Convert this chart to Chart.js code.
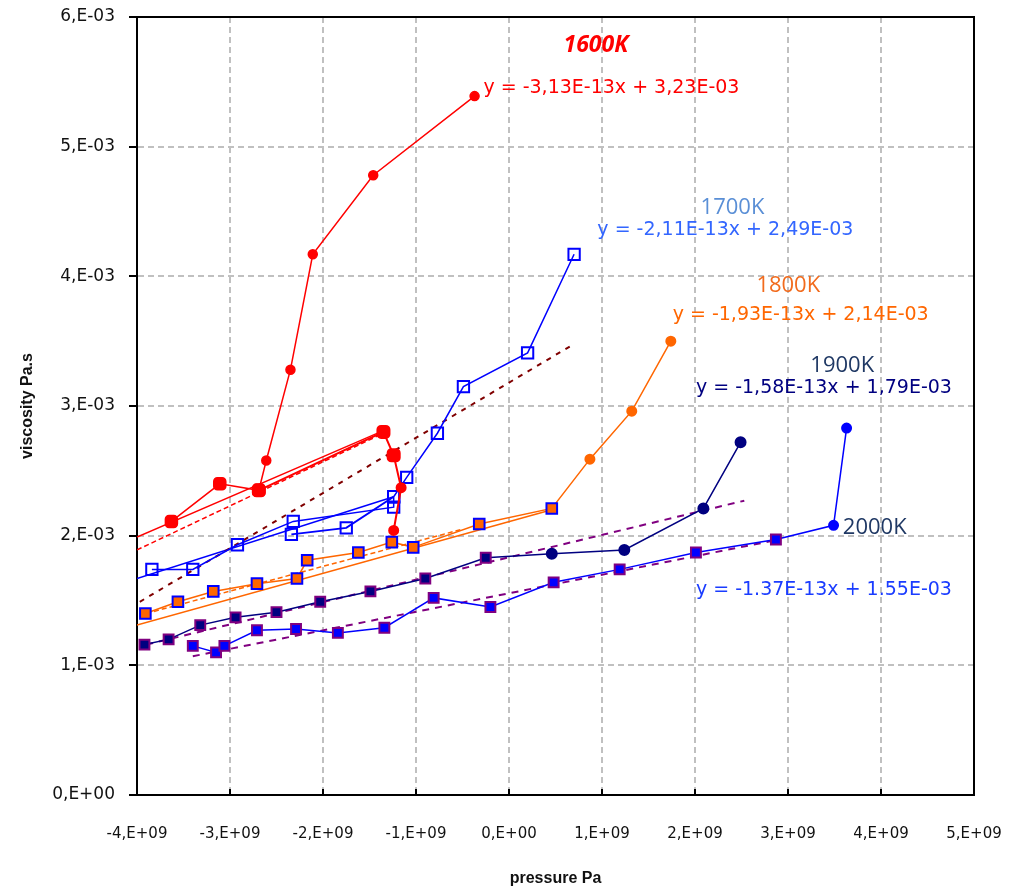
<!DOCTYPE html>
<html>
<head>
<meta charset="utf-8">
<script src="https://cdn.jsdelivr.net/npm/chart.js@4.4.1/dist/chart.umd.min.js"></script>
<style>
  html, body { margin: 0; padding: 0; background: #fff; }
  #wrap { width: 1012px; height: 889px; position: relative; }
</style>
</head>
<body>
<div id="wrap"><canvas id="viscosityChart"></canvas></div>
<script>
// pressure (Pa) and viscosity (Pa.s)
const p1600a = [-3.63e9, -3.11e9, -2.69e9, -2.61e9, -2.35e9, -2.11e9, -1.46e9, -0.37e9];
const v1600a = [2.11e-3, 2.40e-3, 2.35e-3, 2.58e-3, 3.28e-3, 4.17e-3, 4.78e-3, 5.39e-3];
const p1600b = [-2.69e9, -1.35e9, -1.24e9, -1.16e9, -1.24e9];
const v1600b = [2.35e-3, 2.80e-3, 2.62e-3, 2.37e-3, 2.04e-3];

const p1700a = [-3.84e9, -3.40e9, -2.92e9, -2.32e9, -1.24e9, -1.24e9, -1.10e9, -0.77e9, -0.49e9, 0.20e9, 0.70e9];
const v1700a = [1.74e-3, 1.74e-3, 1.93e-3, 2.11e-3, 2.22e-3, 2.30e-3, 2.45e-3, 2.79e-3, 3.15e-3, 3.41e-3, 4.17e-3];
const p1700b = [-2.34e9, -1.75e9, -1.24e9];
const v1700b = [2.01e-3, 2.06e-3, 2.30e-3];

const p1800 = [-3.91e9, -3.56e9, -3.18e9, -2.71e9, -2.28e9, -2.17e9, -1.62e9, -1.26e9, -1.03e9, -0.32e9, 0.46e9, 0.87e9, 1.32e9, 1.74e9];
const v1800 = [1.40e-3, 1.49e-3, 1.57e-3, 1.63e-3, 1.67e-3, 1.81e-3, 1.87e-3, 1.95e-3, 1.91e-3, 2.09e-3, 2.21e-3, 2.59e-3, 2.96e-3, 3.50e-3];

const p1900 = [-3.92e9, -3.66e9, -3.32e9, -2.94e9, -2.50e9, -2.03e9, -1.49e9, -0.90e9, -0.25e9, 0.46e9, 1.24e9, 2.09e9, 2.49e9];
const v1900 = [1.16e-3, 1.20e-3, 1.31e-3, 1.37e-3, 1.41e-3, 1.49e-3, 1.57e-3, 1.67e-3, 1.83e-3, 1.86e-3, 1.89e-3, 2.21e-3, 2.72e-3];

const p2000 = [-3.40e9, -3.15e9, -3.06e9, -2.71e9, -2.29e9, -1.84e9, -1.34e9, -0.81e9, -0.20e9, 0.48e9, 1.19e9, 2.01e9, 2.87e9, 3.49e9, 3.63e9];
const v2000 = [1.15e-3, 1.10e-3, 1.15e-3, 1.27e-3, 1.28e-3, 1.25e-3, 1.29e-3, 1.52e-3, 1.45e-3, 1.64e-3, 1.74e-3, 1.87e-3, 1.97e-3, 2.08e-3, 2.83e-3];

// trend lines (end points)
const pTrendRed = [-4.0e9, -1.35e9];
const vTrendRed = [1.99e-3, 2.81e-3];
const vTrendRed2 = [1.89e-3, 2.79e-3];
const pTrendMaroon = [-3.97e9, 0.68e9];
const vTrendMaroon = [1.49e-3, 3.47e-3];
const pTrendBlue = [-4.0e9, -1.24e9];
const vTrendBlue = [1.67e-3, 2.30e-3];
const pTrendOrange = [-4.0e9, 0.46e9];
const vTrendOrange = [1.31e-3, 2.20e-3];
const pTrendOrange2 = [-3.9e9, -0.5e9];
const vTrendOrange2 = [1.40e-3, 2.05e-3];
const pTrend1900 = [-3.9e9, 2.53e9];
const vTrend1900 = [1.16e-3, 2.27e-3];
const pTrend2000 = [-3.4e9, 2.9e9];
const vTrend2000 = [1.07e-3, 1.97e-3];

const xTickLabels = ["-4,E+09", "-3,E+09", "-2,E+09", "-1,E+09", "0,E+00", "1,E+09", "2,E+09", "3,E+09", "4,E+09", "5,E+09"];
const yTickLabels = ["0,E+00", "1,E-03", "2,E-03", "3,E-03", "4,E-03", "5,E-03", "6,E-03"];

const notes = [
    { text: "1600K", x: 0.586e9, y: 5.78e-3, color: "#ff0000", font: "italic bold 23px 'Open Sans'" },
    { text: "y = -3,13E-13x + 3,23E-03", x: -0.275e9, y: 5.455e-3, color: "#ff0000", font: "19px 'DejaVu Sans'" },
    { text: "1700K", x: 2.06e9, y: 4.53e-3, color: "#5a8fd6", font: "22px 'Open Sans'" },
    { text: "y = -2,11E-13x + 2,49E-03", x: 0.95e9, y: 4.36e-3, color: "#3366ff", font: "19px 'DejaVu Sans'" },
    { text: "1800K", x: 2.66e9, y: 3.93e-3, color: "#f26b1d", font: "22px 'Open Sans'" },
    { text: "y = -1,93E-13x + 2,14E-03", x: 1.76e9, y: 3.70e-3, color: "#ff6600", font: "19px 'DejaVu Sans'" },
    { text: "1900K", x: 3.24e9, y: 3.31e-3, color: "#1f3864", font: "22px 'Open Sans'" },
    { text: "y = -1,58E-13x + 1,79E-03", x: 2.01e9, y: 3.14e-3, color: "#000080", font: "19px 'DejaVu Sans'" },
    { text: "2000K", x: 3.59e9, y: 2.06e-3, color: "#1f3864", font: "22px 'Open Sans'" },
    { text: "y = -1.37E-13x + 1.55E-03", x: 2.01e9, y: 1.58e-3, color: "#1a3cff", font: "19px 'DejaVu Sans'" }
];

function pts(xs, ys) {
    return xs.map((x, i) => ({ x: x, y: ys[i] }));
}

function trend(xs, ys, color, dash, width) {
    return {
        data: pts(xs, ys),
        showLine: true,
        borderColor: color,
        borderWidth: width || 1.5,
        borderDash: dash || [],
        pointRadius: 0
    };
}

const labelPlugin = {
    id: "equationLabels",
    afterDatasetsDraw(chart) {
        const { ctx, scales } = chart;
        ctx.save();
        ctx.textAlign = "left";
        ctx.textBaseline = "middle";
        notes.forEach(n => {
            ctx.font = n.font;
            ctx.fillStyle = n.color;
            ctx.fillText(n.text, scales.x.getPixelForValue(n.x), scales.y.getPixelForValue(n.y));
        });
        ctx.restore();
    }
};

const framePlugin = {
    id: "plotFrame",
    afterDraw(chart) {
        const { ctx, chartArea: a, scales } = chart;
        ctx.save();
        ctx.strokeStyle = "#000";
        ctx.lineWidth = 2;
        ctx.beginPath();
        ctx.moveTo(a.left, a.top);
        ctx.lineTo(a.right, a.top);
        ctx.lineTo(a.right, a.bottom);
        ctx.stroke();
        // small inner tick marks on the x axis
        scales.x.ticks.forEach(t => {
            const px = scales.x.getPixelForValue(t.value);
            ctx.beginPath();
            ctx.moveTo(px, a.bottom);
            ctx.lineTo(px, a.bottom - 6);
            ctx.stroke();
        });
        ctx.restore();
    }
};

new Chart(document.getElementById("viscosityChart"), {
    type: "scatter",
    data: {
        datasets: [
            {
                data: pts(p1600a, v1600a), showLine: true,
                borderColor: "#ff0000", borderWidth: 1.5,
                pointStyle: c => c.dataIndex < 3 ? "rectRounded" : "circle",
                pointRadius: c => c.dataIndex < 3 ? 7 : 4.5,
                pointBackgroundColor: "#ff0000", pointBorderColor: "#ff0000"
            },
            {
                data: pts(p1600b, v1600b), showLine: true,
                borderColor: "#ff0000", borderWidth: 2,
                pointStyle: c => c.dataIndex < 3 ? "rectRounded" : "circle",
                pointRadius: c => c.dataIndex < 3 ? 7 : 4.5,
                pointBackgroundColor: "#ff0000", pointBorderColor: "#ff0000"
            },
            {
                data: pts(p1700a, v1700a), showLine: true,
                borderColor: "#0000ff", borderWidth: 1.5,
                pointStyle: "rect", pointRadius: 8,
                pointBackgroundColor: "rgba(255,255,255,0)", pointBorderColor: "#0000ff", pointBorderWidth: 2
            },
            {
                data: pts(p1700b, v1700b), showLine: true,
                borderColor: "#0000ff", borderWidth: 2,
                pointStyle: "rect", pointRadius: 8,
                pointBackgroundColor: "rgba(255,255,255,0)", pointBorderColor: "#0000ff", pointBorderWidth: 2
            },
            {
                data: pts(p1800, v1800), showLine: true,
                borderColor: "#ff6600", borderWidth: 1.5,
                pointStyle: c => c.dataIndex < 11 ? "rect" : "circle",
                pointRadius: c => c.dataIndex < 11 ? 7.5 : 4.5,
                pointBackgroundColor: "#ff6600",
                pointBorderColor: c => c.dataIndex < 11 ? "#0000ff" : "#ff6600",
                pointBorderWidth: 2
            },
            {
                data: pts(p1900, v1900), showLine: true,
                borderColor: "#000080", borderWidth: 1.5,
                pointStyle: c => c.dataIndex < 9 ? "rect" : "circle",
                pointRadius: c => c.dataIndex < 9 ? 7 : 5,
                pointBackgroundColor: "#000080",
                pointBorderColor: c => c.dataIndex < 9 ? "#800080" : "#000080",
                pointBorderWidth: 2
            },
            {
                data: pts(p2000, v2000), showLine: true,
                borderColor: "#0000ff", borderWidth: 1.5,
                pointStyle: c => c.dataIndex < 13 ? "rect" : "circle",
                pointRadius: c => c.dataIndex < 13 ? 7 : 4.5,
                pointBackgroundColor: "#0000ff",
                pointBorderColor: c => c.dataIndex < 13 ? "#800080" : "#0000ff",
                pointBorderWidth: 2
            },
            trend(pTrendRed, vTrendRed, "#ff0000", [], 1.5),
            trend(pTrendRed, vTrendRed2, "#ff0000", [5, 3], 1.5),
            trend(pTrendMaroon, vTrendMaroon, "#800000", [5, 6], 2),
            trend(pTrendBlue, vTrendBlue, "#0000ff", [], 1.5),
            trend(pTrendOrange, vTrendOrange, "#ff6600", [], 1.5),
            trend(pTrendOrange2, vTrendOrange2, "#ff6600", [5, 3], 1.5),
            trend(pTrend1900, vTrend1900, "#800080", [7, 6], 2),
            trend(pTrend2000, vTrend2000, "#800080", [7, 6], 2)
        ]
    },
    options: {
        responsive: true,
        maintainAspectRatio: false,
        animation: false,
        devicePixelRatio: 1,
        layout: { padding: { top: 17, right: 38, left: 0, bottom: 0 } },
        plugins: {
            legend: { display: false },
            tooltip: { enabled: false }
        },
        scales: {
            x: {
                type: "linear",
                min: -4e9,
                max: 5e9,
                afterFit: s => { s.height = 94; s.paddingLeft = 0; s.paddingRight = 0; },
                grid: {
                    color: "#c0c0c0",
                    lineWidth: 2,
                    drawTicks: false
                },
                border: { display: true, color: "#000", width: 2, dash: [6, 4] },
                ticks: {
                    stepSize: 1e9,
                    autoSkip: false,
                    maxRotation: 0,
                    padding: 30,
                    color: "#111",
                    font: { family: "'DejaVu Sans'", size: 15 },
                    callback: (v, i) => xTickLabels[i]
                },
                title: {
                    display: true,
                    text: "pressure Pa",
                    color: "#111",
                    font: { family: "'Liberation Sans', Arial", size: 16, weight: "bold" },
                    padding: { top: 0, bottom: 1 }
                }
            },
            y: {
                type: "linear",
                min: 0,
                max: 6e-3,
                afterFit: s => { s.width = 137; s.paddingTop = 0; s.paddingBottom = 0; },
                grid: {
                    color: "#c0c0c0",
                    lineWidth: 2,
                    tickColor: "#000",
                    tickLength: 8,
                    tickWidth: 2
                },
                border: { display: true, color: "#000", width: 2, dash: [6, 4] },
                ticks: {
                    stepSize: 1e-3,
                    padding: 14,
                    color: "#111",
                    font: { family: "'DejaVu Sans'", size: 17 },
                    callback: (v, i) => yTickLabels[i]
                },
                title: {
                    display: true,
                    text: "viscosity Pa.s",
                    color: "#111",
                    font: { family: "'Liberation Sans', Arial", size: 16, weight: "bold" },
                    padding: { top: 18, bottom: 0 }
                }
            }
        }
    },
    plugins: [labelPlugin, framePlugin]
});
</script>
</body>
</html>
